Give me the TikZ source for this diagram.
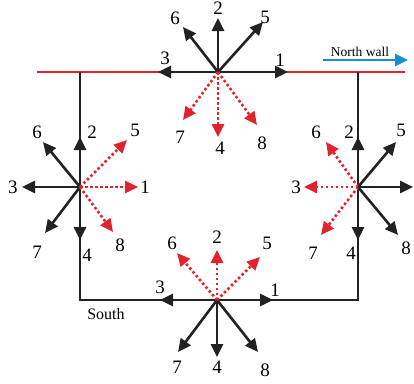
\documentclass[tikz,border=0pt]{standalone}
\usepackage{fontspec}
\setmainfont{Liberation Serif}
\usetikzlibrary{arrows.meta,calc}
\definecolor{wlblack}{HTML}{222222}
\definecolor{wlred}{HTML}{E3232C}
\definecolor{wlblue}{HTML}{1B8DD6}

\begin{document}
\begin{tikzpicture}[x=1pt,y=-1pt,>={Triangle[length=13pt,width=12pt]},
  lb/.style={font=\fontsize{19}{21}\selectfont,inner sep=0pt},
  tx/.style={font=\fontsize{13.5}{15}\selectfont,inner sep=0pt},
  bk/.style={->,line width=2.6pt,wlblack},
  rd/.style={->,line width=2.6pt,wlred,dash pattern=on 2.5pt off 2.5pt},
  wall/.style={line width=2.6pt,wlblack}]
  \useasboundingbox (0,0) rectangle (414,383);
  % walls
  \coordinate (nw) at (37,72);  \coordinate (ne) at (405,72);
  \coordinate (a) at (80,72);   \coordinate (b) at (80,300);
  \coordinate (c) at (358,300); \coordinate (d) at (358,72);
  \draw[line width=2.8pt,wlred] (nw) -- (ne);
  \draw[wall] (a) -- (b) -- (c) -- (d);
  % star centres
  \coordinate (T) at (218,72);
  \coordinate (L) at (80,187);
  \coordinate (R) at (358,187);
  \coordinate (B) at (217,300);
  % top
  \foreach \n/\dx/\dy/\lx/\ly/\st in {1/70/0/62/-12/bk,3/-60/0/-53/-14/bk,2/0/-54/0/-64/bk,
      6/-35/-45/-43/-54/bk,5/45/-50/47/-55/bk,7/-35/48/-38/65/rd,4/0/65/2/76/rd,8/39/53/44/71/rd}{
    \coordinate (T\n) at ($(T)+(\dx,\dy)$);
    \draw[\st] (T) -- (T\n);
    \node[lb] (lT\n) at ($(T)+(\lx,\ly)$) {\n};
  }
  % left
  \foreach \n/\dx/\dy/\lx/\ly/\st in {2/0/-50/12/-55/bk,4/0/53/7/68/bk,3/-58/0/-67/0/bk,
      6/-37/-45/-43/-55/bk,7/-35/46/-43/65/bk,5/47/-47/55/-57/rd,1/58/0/65/0/rd,8/33/45/40/58/rd}{
    \coordinate (L\n) at ($(L)+(\dx,\dy)$);
    \draw[\st] (L) -- (L\n);
    \node[lb] (lL\n) at ($(L)+(\lx,\ly)$) {\n};
  }
  % right
  \foreach \n/\dx/\dy/\lx/\ly/\st in {2/0/-50/-9/-55/bk,4/0/53/-7/66/bk,
      5/38/-45/43/-57/bk,8/40/48/48/61/bk,6/-32/-45/-42/-55/rd,3/-54/0/-62/0/rd,7/-37/48/-45/66/rd}{
    \coordinate (R\n) at ($(R)+(\dx,\dy)$);
    \draw[\st] (R) -- (R\n);
    \node[lb] (lR\n) at ($(R)+(\lx,\ly)$) {\n};
  }
  \coordinate (Re) at ($(R)+(55,0)$);
  \draw[bk] (R) -- (Re);
  % bottom
  \foreach \n/\dx/\dy/\lx/\ly/\st in {3/-57/0/-57/-13/bk,1/56/0/58/-10/bk,4/0/57/0/67/bk,
      7/-39/52/-40/67/bk,8/41/52/48/70/bk,6/-40/-47/-45/-57/rd,2/0/-50/0/-63/rd,5/43/-43/50/-57/rd}{
    \coordinate (B\n) at ($(B)+(\dx,\dy)$);
    \draw[\st] (B) -- (B\n);
    \node[lb] (lB\n) at ($(B)+(\lx,\ly)$) {\n};
  }
  % labels
  \node[tx,font=\fontsize{16}{18}\selectfont] (south) at (106,314) {South};
  \node[tx] (north) at (360,52) {North wall};
  \coordinate (n1) at (323,60); \coordinate (n2) at (408,60);
  \draw[line width=2.6pt,wlblue,-{Triangle[length=13pt,width=12pt]}] (n1) -- (n2);
\end{tikzpicture}
\end{document}
